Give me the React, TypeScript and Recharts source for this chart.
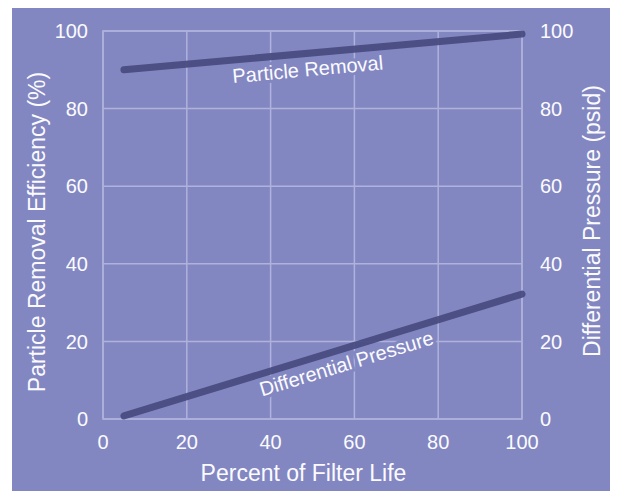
import React from "react";
import {
  LineChart,
  Line,
  XAxis,
  YAxis,
  CartesianGrid,
  ReferenceDot,
  ReferenceArea,
} from "recharts";

// valores
const filterLife = [5, 100];
const particleRemoval = [90, 99.2];
const diffPressure = [0.8, 32.2];
const xTicks = [0, 20, 40, 60, 80, 100];
const yTicks = [0, 20, 40, 60, 80, 100];

const data = filterLife.map((x, i) => ({
  life: x,
  removal: particleRemoval[i],
  pressure: diffPressure[i],
}));

// valor de una serie recta en un x dado
const valueAt = (series: number[], x: number) =>
  series[0] +
  ((series[1] - series[0]) * (x - filterLife[0])) /
    (filterLife[1] - filterLife[0]);

const BG = "#8387c1";
const GRID = "#afb2dc";
const LINE = "#464a7f";
const TEXT = "#fbfbff";
const FONT = "'Liberation Sans', Arial, sans-serif";

const lineLabel = (text: string, angle: number) => (props: any) => {
  const { viewBox } = props;
  const cx = viewBox.x + viewBox.width / 2;
  const cy = viewBox.y + viewBox.height / 2 + 23;
  return (
    <text
      x={cx}
      y={cy}
      textAnchor="middle"
      transform={`rotate(${angle}, ${cx}, ${cy})`}
      fill={TEXT}
      stroke={BG}
      strokeWidth={6}
      paintOrder="stroke"
      fontSize={20}
      fontFamily={FONT}
    >
      {text}
    </text>
  );
};

const leftTitle = (props: any) => {
  const { viewBox } = props;
  const x = viewBox.x + 25;
  const y = viewBox.y + viewBox.height / 2 + 7;
  return (
    <text
      x={x}
      y={y}
      textAnchor="middle"
      dominantBaseline="central"
      transform={`rotate(-90, ${x}, ${y})`}
      fill={TEXT}
      fontSize={23}
      fontFamily={FONT}
    >
      Particle Removal Efficiency (%)
    </text>
  );
};

const rightTitle = (props: any) => {
  const { viewBox } = props;
  const x = viewBox.x + 70;
  const y = viewBox.y + viewBox.height / 2 - 4;
  return (
    <text
      x={x}
      y={y}
      textAnchor="middle"
      dominantBaseline="central"
      transform={`rotate(-90, ${x}, ${y})`}
      fill={TEXT}
      fontSize={23}
      fontFamily={FONT}
    >
      Differential Pressure (psid)
    </text>
  );
};

const bottomTitle = (props: any) => {
  const { viewBox } = props;
  return (
    <text
      x={viewBox.x + viewBox.width / 2 - 9}
      y={viewBox.y + 62}
      textAnchor="middle"
      fill={TEXT}
      fontSize={23}
      fontFamily={FONT}
    >
      Percent of Filter Life
    </text>
  );
};

const tickStyle = { fill: TEXT, fontSize: 20, fontFamily: FONT };

export default function App() {
  return (
    <div
      style={{
        margin: -8,
        width: 618,
        height: 499,
        background: "#fff",
        position: "relative",
      }}
    >
      <LineChart
        width={604}
        height={495}
        data={data}
        margin={{ top: 27, right: 0, bottom: 0, left: 0 }}
        style={{ position: "absolute", left: 12, top: 4, background: BG }}
      >
        <CartesianGrid yAxisId="left" stroke={GRID} strokeWidth={1.5} />
        <ReferenceArea
          yAxisId="left"
          x1={0}
          x2={100}
          y1={0}
          y2={100}
          fill="none"
          stroke={GRID}
          strokeWidth={1.5}
        />
        <XAxis
          dataKey="life"
          type="number"
          domain={[0, 100]}
          ticks={xTicks}
          height={80}
          axisLine={false}
          tickLine={false}
          tickMargin={10}
          tick={tickStyle}
          label={{ content: bottomTitle }}
        />
        <YAxis
          yAxisId="left"
          domain={[0, 100]}
          ticks={yTicks}
          width={91}
          axisLine={false}
          tickLine={false}
          tickMargin={9}
          tick={tickStyle}
          label={{ content: leftTitle }}
        />
        <YAxis
          yAxisId="right"
          orientation="right"
          domain={[0, 100]}
          ticks={yTicks}
          width={94}
          axisLine={false}
          tickLine={false}
          tickMargin={12}
          tick={tickStyle}
          label={{ content: rightTitle }}
        />
        <Line
          yAxisId="left"
          dataKey="removal"
          stroke={LINE}
          strokeOpacity={0.92}
          strokeWidth={7}
          strokeLinecap="round"
          dot={false}
          isAnimationActive={false}
        />
        <Line
          yAxisId="right"
          dataKey="pressure"
          stroke={LINE}
          strokeOpacity={0.92}
          strokeWidth={7}
          strokeLinecap="round"
          dot={false}
          isAnimationActive={false}
        />
        <ReferenceDot
          yAxisId="left"
          x={49}
          y={valueAt(particleRemoval, 49)}
          r={1}
          fill="none"
          stroke="none"
          label={{ content: lineLabel("Particle Removal", -5.2) }}
        />
        <ReferenceDot
          yAxisId="right"
          x={58.6}
          y={valueAt(diffPressure, 58.6)}
          r={1}
          fill="none"
          stroke="none"
          label={{ content: lineLabel("Differential Pressure", -17) }}
        />
      </LineChart>
    </div>
  );
}
